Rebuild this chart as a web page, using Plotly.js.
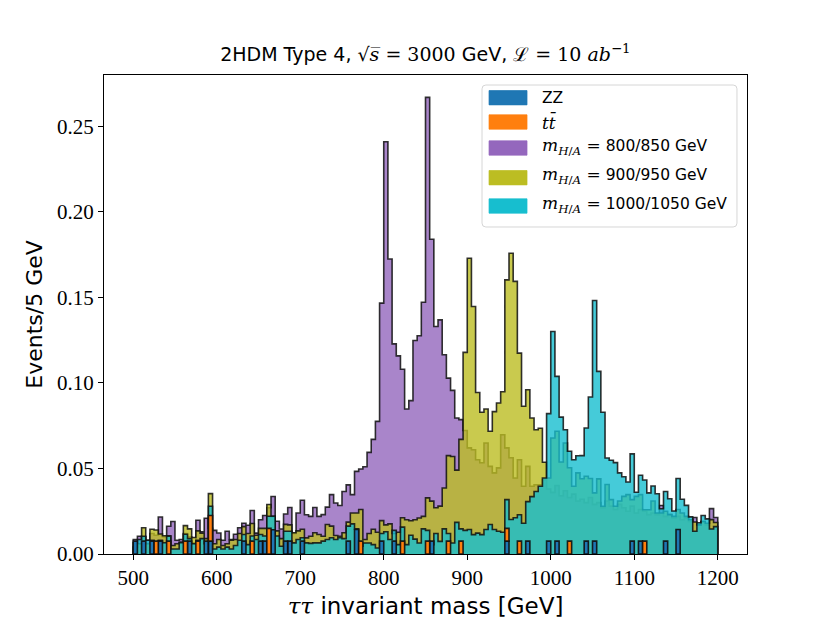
<!DOCTYPE html>
<html>
<head>
<meta charset="utf-8">
<script src="https://cdn.plot.ly/plotly-3.0.1.min.js"></script>
<style>body{margin:0;background:#fff;}</style>
</head>
<body>
<div id="plot" style="width:830px;height:623px;"></div>
<script>
// 5 GeV bins from 500 GeV
var binLow = 500, binWidth = 5;

// backgrounds (stacked)
var zz = [
  0.0075,0,0.0075,0,0.0075,0,0.0075,0,0,0,
  0,0,0,0.0075,0,0,0,0.0075,0.0075,0,
  0,0,0,0,0,0,0.0075,0,0,0,
  0.0075,0.0075,0,0.0142,0,0,0.0075,0.0075,0,0,
  0.0075,0,0,0,0,0,0,0,0,0,
  0,0.0075,0,0.0143,0,0,0,0,0,0.0075,
  0,0,0.0075,0,0,0,0,0,0,0,
  0,0.0075,0,0,0,0,0,0,0,0,
  0,0,0,0,0,0,0,0,0,0.0075,
  0,0,0,0,0.0075,0,0,0,0,0.0075,
  0,0.0075,0,0,0,0,0,0,0.0075,0,
  0.0075,0,0,0,0,0,0,0,0,0.0075,
  0,0.0075,0,0,0,0,0,0.0075,0,0,
  0.0143,0,0,0,0,0,0,0,0,0
];
var ttbar = [
  0,0,0,0,0,0.0075,0,0,0.0075,0,
  0,0,0.0075,0,0,0.0075,0,0,0.015,0,
  0,0,0,0,0,0,0,0,0.0075,0,
  0,0,0.015,0,0,0,0,0,0,0,
  0,0,0,0,0,0,0,0,0,0,
  0,0,0,0,0.0075,0,0,0,0,0,
  0,0,0,0,0.0075,0,0,0,0,0,
  0.0075,0,0,0,0,0.0075,0,0,0.0075,0,
  0,0,0,0,0,0,0,0,0,0.0075,
  0,0,0.0075,0,0,0,0,0,0,0,
  0,0,0,0,0.0075,0,0,0,0,0,
  0,0,0,0,0,0,0,0,0,0,
  0,0,0.0075,0,0,0,0,0,0,0,
  0,0,0,0,0,0,0,0,0,0
];

// signals (overlaid)
var m800 = [
  0.0085,0.0104,0.0100,0.0080,0.0120,0.0110,0.0216,0.0100,0.0162,0.0190,
  0.0080,0.0085,0.0120,0.0100,0.0066,0.0197,0.0130,0.0209,0.0150,0.0138,
  0.0123,0.0080,0.0133,0.0085,0.0115,0.0153,0.0180,0.0168,0.0254,0.0122,
  0.0200,0.0225,0.0270,0.0336,0.0191,0.0146,0.0234,0.0272,0.0120,0.0240,
  0.0314,0.0229,0.0220,0.0272,0.0220,0.0230,0.0274,0.0347,0.0298,0.0283,
  0.0365,0.0404,0.0347,0.0483,0.0497,0.0510,0.0594,0.0670,0.0775,0.1466,
  0.2409,0.1724,0.1228,0.1158,0.1080,0.0847,0.0896,0.1248,0.1275,0.1471,
  0.2668,0.1839,0.1329,0.1368,0.1164,0.1028,0.0956,0.0795,0.0785,0.0722,
  0.0620,0.0609,0.0551,0.0533,0.0649,0.0512,0.0474,0.0503,0.0697,0.0620,
  0.0562,0.0444,0.0551,0.0396,0.0512,0.0396,0.0405,0.0405,0.0434,0.0380,
  0.0360,0.0400,0.0340,0.0370,0.0330,0.0350,0.0310,0.0320,0.0300,0.0330,
  0.0290,0.0300,0.0270,0.0310,0.0280,0.0260,0.0290,0.0270,0.0250,0.0280,
  0.0240,0.0260,0.0250,0.0230,0.0240,0.0230,0.0283,0.0220,0.0230,0.0210,
  0.0220,0.0200,0.0210,0.0190,0.0213,0.0170,0.0190,0.0170,0.0265,0.0213
];
var m900 = [
  0.0040,0.0060,0.0153,0.0060,0.0145,0.0140,0.0117,0.0107,0.0107,0.0050,
  0.0060,0.0070,0.0166,0.0147,0.0096,0.0135,0.0122,0.0090,0.0353,0.0060,
  0.0085,0.0050,0.0060,0.0080,0.0085,0.0120,0.0160,0.0120,0.0178,0.0110,
  0.0150,0.0150,0.0289,0.0220,0.0135,0.0090,0.0173,0.0170,0.0124,0.0135,
  0.0145,0.0094,0.0104,0.0124,0.0114,0.0104,0.0172,0.0163,0.0108,0.0104,
  0.0124,0.0186,0.0240,0.0240,0.0260,0.0085,0.0120,0.0145,0.0127,0.0195,
  0.0170,0.0176,0.0120,0.0127,0.0212,0.0200,0.0194,0.0200,0.0210,0.0220,
  0.0328,0.0309,0.0270,0.0280,0.0386,0.0575,0.0570,0.0490,0.0670,0.1178,
  0.1728,0.1446,0.0944,0.0828,0.0847,0.0717,0.0832,0.0882,0.0948,0.1602,
  0.1757,0.1593,0.1174,0.0863,0.0960,0.0795,0.0726,0.0735,0.0536,0.0444,
  0.0678,0.0717,0.0538,0.0649,0.0504,0.0396,0.0474,0.0440,0.0454,0.0441,
  0.0357,0.0439,0.0279,0.0406,0.0318,0.0279,0.0310,0.0337,0.0347,0.0318,
  0.0337,0.0347,0.0259,0.0259,0.0310,0.0240,0.0240,0.0250,0.0230,0.0220,
  0.0260,0.0240,0.0220,0.0200,0.0187,0.0170,0.0190,0.0180,0.0201,0.0184
];
var m1000 = [
  0.0066,0.0085,0.0104,0.0080,0.0080,0.0060,0.0080,0.0066,0.0104,0.0029,
  0.0029,0.0066,0.0115,0.0090,0.0060,0.0080,0.0090,0.0060,0.0279,0.0029,
  0.0040,0.0029,0.0040,0.0029,0.0050,0.0080,0.0114,0.0055,0.0105,0.0085,
  0.0114,0.0105,0.0221,0.0221,0.0105,0.0045,0.0133,0.0133,0.0065,0.0085,
  0.0095,0.0065,0.0062,0.0065,0.0065,0.0075,0.0085,0.0095,0.0085,0.0095,
  0.0090,0.0163,0.0176,0.0147,0.0045,0.0064,0.0064,0.0055,0.0035,0.0120,
  0.0130,0.0085,0.0138,0.0055,0.0157,0.0055,0.0110,0.0087,0.0064,0.0147,
  0.0138,0.0055,0.0120,0.0074,0.0147,0.0120,0.0064,0.0185,0.0147,0.0138,
  0.0143,0.0113,0.0122,0.0113,0.0143,0.0172,0.0143,0.0133,0.0127,0.0318,
  0.0202,0.0212,0.0229,0.0180,0.0306,0.0335,0.0365,0.0396,0.0444,0.0820,
  0.1300,0.1038,0.0800,0.0726,0.0600,0.0551,0.0574,0.0575,0.0736,0.0917,
  0.1481,0.1067,0.0828,0.0561,0.0548,0.0534,0.0474,0.0451,0.0421,0.0585,
  0.0361,0.0460,0.0432,0.0357,0.0397,0.0352,0.0264,0.0365,0.0323,0.0251,
  0.0441,0.0320,0.0284,0.0217,0.0133,0.0183,0.0225,0.0205,0.0146,0.0160
];

var seriesNames = ['ZZ', 'tt̄', '800/850 GeV', '900/950 GeV', '1000/1050 GeV'];
var seriesColors = ['#1f77b4', '#ff7f0e', '#9467bd', '#bcbd22', '#17becf'];
var xTicks = [500, 600, 700, 800, 900, 1000, 1100, 1200];
var yTicks = [0, 0.05, 0.10, 0.15, 0.20, 0.25];

function rgba(hex, a) {
  var n = parseInt(hex.slice(1), 16);
  return 'rgba(' + (n >> 16) + ',' + ((n >> 8) & 255) + ',' + (n & 255) + ',' + a + ')';
}

// stepfilled outline like matplotlib hist
function stepTrace(vals, color) {
  var xs = [binLow], ys = [0];
  for (var i = 0; i < vals.length; i++) {
    xs.push(binLow + i * binWidth);
    ys.push(vals[i]);
  }
  var hi = binLow + vals.length * binWidth;
  xs.push(hi); ys.push(vals[vals.length - 1]);
  xs.push(hi); ys.push(0);
  return {x: xs, y: ys, mode: 'lines', line: {shape: 'hv', color: 'rgba(15,15,15,0.85)', width: 1.6},
          fill: 'tozeroy', fillcolor: rgba(color, 0.8), hoverinfo: 'skip', showlegend: false};
}

// one closed box per non-empty bin, stacked on base
function boxTrace(vals, base, color) {
  var xs = [], ys = [];
  for (var i = 0; i < vals.length; i++) {
    if (vals[i] <= 0) continue;
    var l = binLow + i * binWidth, r = l + binWidth;
    var b = base ? base[i] : 0, t = b + vals[i];
    xs.push(l, l, r, r, l, null);
    ys.push(b, t, t, b, b, null);
  }
  return {x: xs, y: ys, mode: 'lines', line: {color: 'rgba(15,15,15,0.9)', width: 1.6},
          fill: 'toself', fillcolor: color, hoverinfo: 'skip', showlegend: false};
}

var traces = [
  stepTrace(m800, seriesColors[2]),
  stepTrace(m900, seriesColors[3]),
  stepTrace(m1000, seriesColors[4]),
  boxTrace(zz, null, seriesColors[0]),
  boxTrace(ttbar, zz, seriesColors[1])
];

// legend drawn by hand (matplotlib style, upper right)
var serif = "'DejaVu Serif', serif";
var sans = "'DejaVu Sans', sans-serif";
var mLabel = '<span style="font-family:' + serif + ';font-size:17px"><i>m</i><sub><i>H</i>/<i>A</i></sub> =</span> ';
var legendText = [
  seriesNames[0],
  '<span style="font-family:' + serif + ';font-size:17px"><i>tt̄</i></span>',
  mLabel + seriesNames[2],
  mLabel + seriesNames[3],
  mLabel + seriesNames[4]
];
var rowY = [0.9526, 0.9019, 0.8476, 0.7856, 0.7265];
var bx0 = 0.5879, bx1 = 0.9844, by0 = 0.6827, by1 = 0.9791, rx = 0.006, ry = 0.008;
var shapes = [{
  type: 'path', xref: 'paper', yref: 'paper',
  path: 'M' + (bx0 + rx) + ',' + by1 + ' L' + (bx1 - rx) + ',' + by1 +
        ' Q' + bx1 + ',' + by1 + ' ' + bx1 + ',' + (by1 - ry) +
        ' L' + bx1 + ',' + (by0 + ry) + ' Q' + bx1 + ',' + by0 + ' ' + (bx1 - rx) + ',' + by0 +
        ' L' + (bx0 + rx) + ',' + by0 + ' Q' + bx0 + ',' + by0 + ' ' + bx0 + ',' + (by0 + ry) +
        ' L' + bx0 + ',' + (by1 - ry) + ' Q' + bx0 + ',' + by1 + ' ' + (bx0 + rx) + ',' + by1 + ' Z',
  fillcolor: 'rgba(255,255,255,0.8)', line: {color: '#d6d6d6', width: 1}
}];
var annotations = [];
for (var k = 0; k < legendText.length; k++) {
  shapes.push({type: 'rect', xref: 'paper', yref: 'paper',
    x0: 0.5988, x1: 0.6579, y0: rowY[k] - 0.015, y1: rowY[k] + 0.015,
    fillcolor: seriesColors[k], line: {color: rgba(seriesColors[k], 0.7), width: 1}});
  annotations.push({xref: 'paper', yref: 'paper', x: 0.678, y: rowY[k] + (k > 1 ? 0.004 : 0),
    xanchor: 'left', yanchor: 'middle', showarrow: false, text: legendText[k],
    font: {family: sans, size: 15.5, color: '#000'}});
}

var layout = {
  width: 830, height: 623,
  margin: {l: 104, r: 83, t: 75, b: 69},
  paper_bgcolor: '#fff', plot_bgcolor: '#fff',
  showlegend: false,
  title: {
    text: '2HDM Type 4, <span style="font-family:' + serif + '">√<i>s̅</i> = 3000</span> GeV, ' +
          '<span style="font-family:' + serif + '">ℒ = 10 <i>ab</i><sup>−1</sup></span>',
    font: {family: sans, size: 19, color: '#000'},
    x: 0.5125, xanchor: 'center', y: 0.912, yanchor: 'middle'
  },
  xaxis: {
    range: [465, 1235], tickvals: xTicks, ticktext: xTicks.map(String),
    ticks: 'outside', ticklen: 5, tickwidth: 1, tickcolor: '#000',
    showline: true, mirror: true, linecolor: '#000', linewidth: 1,
    showgrid: false, zeroline: false,
    tickfont: {family: "'Liberation Serif', serif", size: 21, color: '#000'},
    title: {text: '<span style="font-family:' + serif + '"><i>ττ</i></span> invariant mass [GeV]',
            font: {family: sans, size: 23, color: '#000'}, standoff: 8}
  },
  yaxis: {
    range: [0, 0.2799], tickvals: yTicks, tickformat: '.2f',
    ticks: 'outside', ticklen: 5, tickwidth: 1, tickcolor: '#000',
    showline: true, mirror: true, linecolor: '#000', linewidth: 1,
    showgrid: false, zeroline: false,
    tickfont: {family: "'Liberation Serif', serif", size: 21, color: '#000'},
    title: {text: 'Events/5 GeV', font: {family: sans, size: 22, color: '#000'}, standoff: 8}
  },
  shapes: shapes,
  annotations: annotations
};

Plotly.newPlot('plot', traces, layout, {staticPlot: true});
</script>
</body>
</html>
